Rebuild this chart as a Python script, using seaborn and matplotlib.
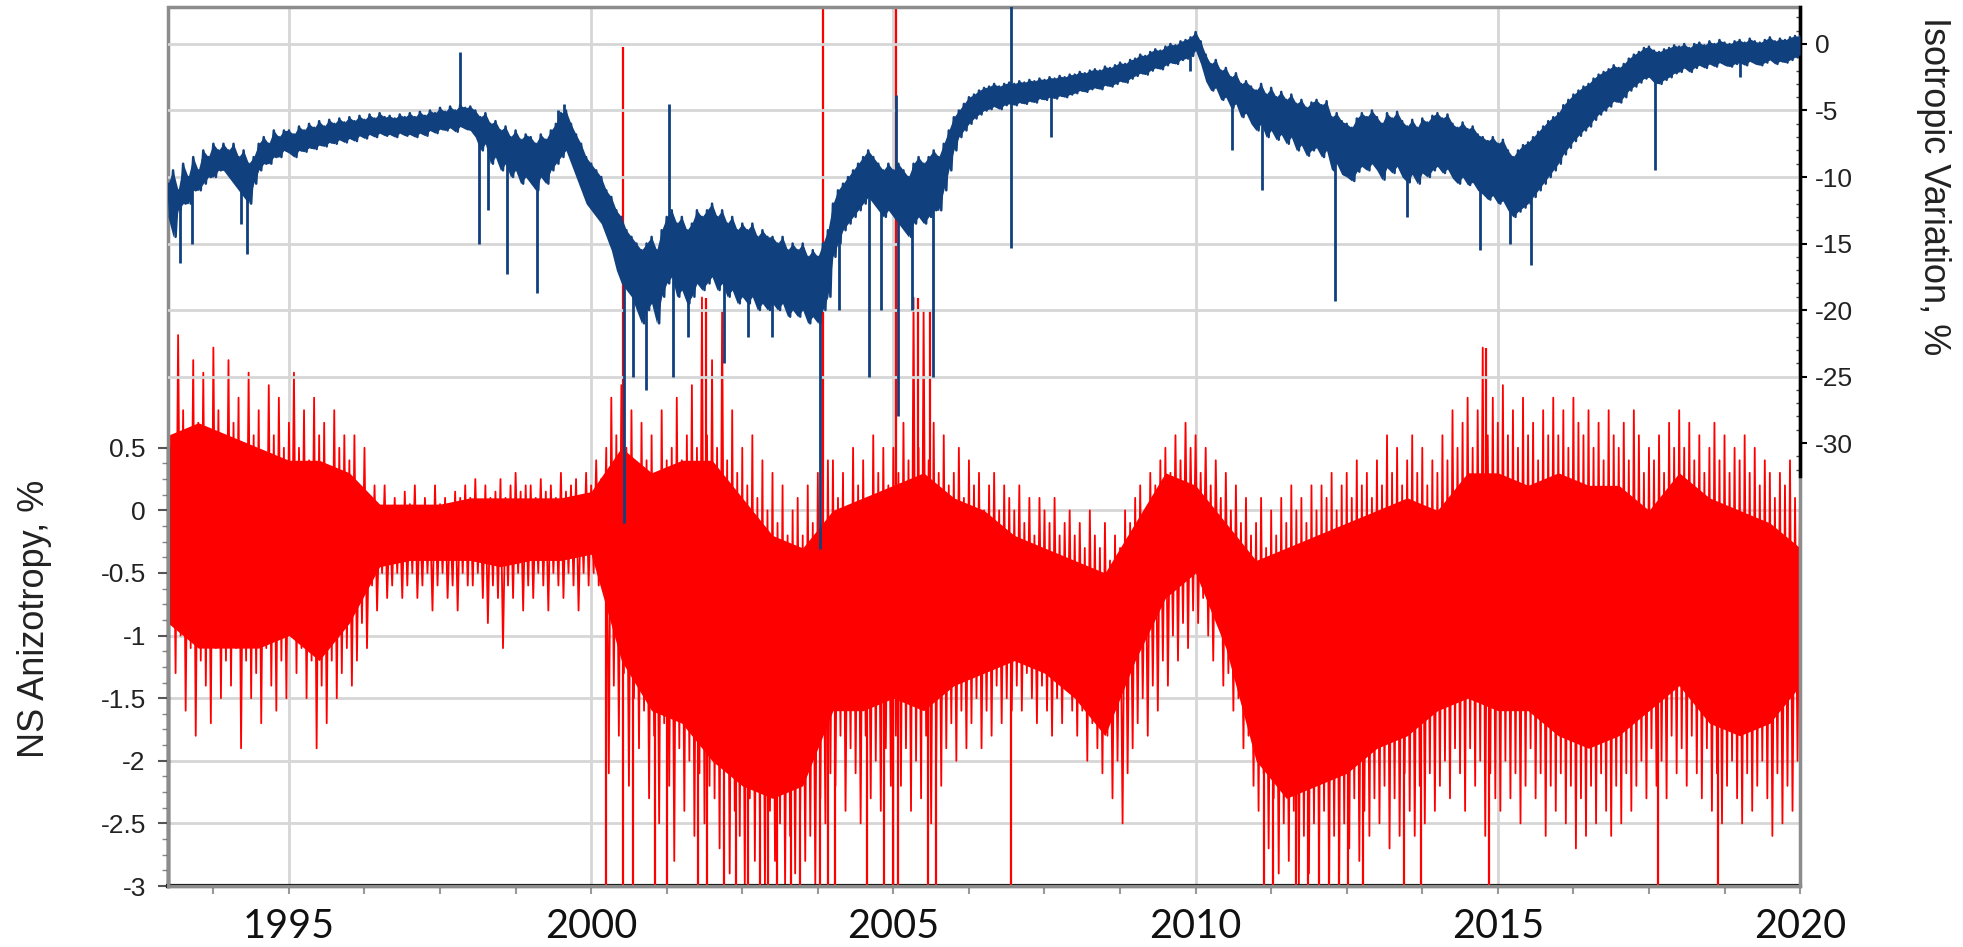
import numpy as np
import matplotlib.pyplot as plt
import seaborn as sns
from matplotlib.ticker import FixedLocator
from matplotlib.patches import Rectangle

# ---- data ----
# monthly sample grid 1993.0 .. 2020.0
years_m = 1993.0 + np.arange(325) / 12
# half-year sample grid for the solid core of the red scatter
years_h = 1993.0 + np.arange(55) / 2

# NS anisotropy, %: upper / lower reach of the daily scatter, month by month
red_hi = [
    1.0, 0.6, 1.4, 0.8, 0.5, 1.2, 0.7, 1.1, 0.6, 1.3, 0.8, 0.5,      # 1993
    1.2, 0.7, 0.9, 0.5, 1.1, 0.6, 0.8, 0.4, 1.0, 0.6, 0.9, 0.5,      # 1994
    0.7, 1.1, 0.5, 0.8, 0.4, 0.9, 0.6, 0.7, 0.3, 0.8, 0.5, 0.6,      # 1995
    0.4, 0.6, 0.2, 0.5, 0.1, 0.2, 0.0, 0.2, -0.05, 0.1, 0.0, 0.15,   # 1996
    0.05, 0.2, -0.05, 0.1, 0.0, 0.2, 0.05, 0.1, -0.05, 0.15, 0.1, 0.2,  # 1997
    0.1, 0.25, 0.05, 0.2, 0.1, 0.15, 0.25, 0.1, 0.2, 0.3, 0.15, 0.2,    # 1998
    0.2, 0.1, 0.25, 0.15, 0.2, 0.1, 0.3, 0.15, 0.2, 0.25, 0.1, 0.3,     # 1999
    0.2, 0.4, 0.25, 0.5, 0.9, 0.6, 1.0, 0.5, 0.8, 0.3, 0.7, 0.4,     # 2000
    0.6, 0.3, 0.8, 0.4, 0.5, 0.9, 0.4, 0.6, 1.0, 0.5, 1.7, 0.6,      # 2001
    1.2, 0.5, 1.6, 0.4, 0.8, 0.3, 0.5, 0.2, 0.6, 0.1, 0.4, 0.0,      # 2002
    0.3, -0.1, 0.2, -0.2, 0.0, 0.1, -0.2, 0.2, -0.1, 0.3, 0.0, 0.4,  # 2003
    0.4, 0.1, 0.3, 0.0, 0.5, 0.2, 0.4, 0.1, 0.6, 0.3, 0.5, 0.2,      # 2004
    0.5, 0.3, 0.7, 0.4, 1.7, 0.5, 1.6, 0.4, 0.7, 0.3, 0.6, 0.2,      # 2005
    0.3, 0.5, 0.1, 0.4, 0.2, 0.3, 0.0, 0.2, 0.3, 0.0, 0.2, 0.1,      # 2006
    0.0, 0.2, -0.1, 0.1, -0.2, 0.1, 0.0, -0.1, 0.1, -0.2, -0.1, 0.0,    # 2007
    -0.2, -0.1, -0.3, 0.0, -0.2, -0.3, -0.1, -0.4, -0.2, -0.3, 0.0, -0.1,  # 2008
    0.1, 0.2, 0.0, 0.3, 0.2, 0.4, 0.5, 0.3, 0.6, 0.4, 0.7, 0.5,      # 2009
    0.6, 0.3, 0.5, 0.2, 0.4, 0.1, 0.3, 0.0, 0.2, -0.1, 0.1, -0.2,    # 2010
    -0.1, 0.1, -0.3, 0.0, -0.2, 0.1, -0.1, 0.2, 0.0, 0.1, -0.1, 0.2,  # 2011
    0.0, 0.2, 0.1, 0.3, 0.0, 0.2, 0.3, 0.1, 0.4, 0.2, 0.3, 0.1,      # 2012
    0.4, 0.2, 0.6, 0.3, 0.5, 0.2, 0.4, 0.6, 0.3, 0.5, 0.2, 0.4,      # 2013
    0.3, 0.6, 0.4, 0.8, 0.5, 0.7, 0.9, 0.5, 0.8, 1.3, 0.6, 0.9,      # 2014
    0.7, 1.0, 0.6, 0.8, 0.5, 0.9, 0.6, 0.7, 0.4, 0.8, 0.6, 0.9,      # 2015
    0.6, 0.8, 0.5, 0.9, 0.7, 0.6, 0.8, 0.5, 0.7, 0.4, 0.8, 0.6,      # 2016
    0.5, 0.7, 0.4, 0.8, 0.6, 0.3, 0.5, 0.4, 0.6, 0.3, 0.7, 0.5,      # 2017
    0.8, 0.5, 0.7, 0.4, 0.6, 0.3, 0.5, 0.7, 0.4, 0.6, 0.3, 0.5,      # 2018
    0.4, 0.6, 0.3, 0.5, 0.2, 0.4, 0.3, 0.1, 0.3, 0.2, 0.4, 0.1,      # 2019
    0.2]
red_lo = [
    -0.9, -1.3, -1.0, -1.6, -1.1, -1.8, -1.2, -1.4, -1.7, -1.1, -1.5, -1.2,  # 1993
    -1.4, -1.1, -1.9, -1.2, -1.5, -1.3, -1.7, -1.1, -1.4, -1.6, -1.2, -1.5,  # 1994
    -1.0, -1.3, -1.1, -1.5, -1.2, -1.9, -1.4, -1.7, -1.2, -1.5, -1.3, -1.1,  # 1995
    -1.4, -1.2, -0.9, -1.1, -0.6, -0.8, -0.5, -0.7, -0.6, -0.5, -0.7, -0.6,  # 1996
    -0.5, -0.7, -0.6, -0.5, -0.8, -0.6, -0.5, -0.7, -0.6, -0.8, -0.5, -0.6,  # 1997
    -0.6, -0.5, -0.7, -0.9, -0.6, -0.7, -1.1, -0.6, -0.7, -0.5, -0.8, -0.6,  # 1998
    -0.7, -0.5, -0.6, -0.8, -0.5, -0.6, -0.7, -0.5, -0.6, -0.8, -0.5, -0.6,  # 1999
    -0.5, -0.6, -0.5, -2.1, -1.4, -1.8, -1.3, -2.2, -1.5, -1.9, -1.6, -2.3,  # 2000
    -1.8, -2.5, -1.7, -2.2, -2.8, -1.9, -2.4, -2.0, -2.6, -2.1, -2.5, -2.2,  # 2001
    -2.3, -2.7, -2.0, -2.9, -2.4, -2.6, -3.0, -2.3, -2.8, -2.5, -3.0, -2.4,  # 2002
    -2.8, -2.5, -3.0, -2.6, -2.9, -2.4, -2.8, -2.6, -3.0, -2.3, -2.5, -2.1,  # 2003
    -2.2, -1.8, -2.4, -1.9, -2.1, -2.5, -1.8, -2.3, -2.0, -2.4, -1.9, -2.2,  # 2004
    -1.8, -2.2, -1.9, -2.4, -2.0, -2.3, -1.8, -2.5, -2.0, -2.2, -1.9, -1.7,  # 2005
    -2.0, -1.6, -1.9, -1.7, -1.5, -1.9, -1.6, -1.8, -1.4, -1.7, -1.5, -1.6,  # 2006
    -1.4, -1.6, -1.3, -1.5, -1.7, -1.4, -1.6, -1.8, -1.5, -1.7, -1.4, -1.6,  # 2007
    -1.8, -1.6, -2.0, -1.7, -1.9, -2.1, -1.8, -2.3, -2.0, -2.5, -2.1, -1.9,  # 2008
    -1.7, -1.5, -1.8, -1.4, -1.6, -1.2, -1.4, -1.0, -1.2, -0.9, -1.1, -0.8,  # 2009
    -0.9, -0.7, -1.0, -1.2, -0.9, -1.4, -1.3, -1.6, -1.5, -1.9, -1.8, -2.2,  # 2010
    -2.4, -2.1, -2.7, -2.3, -2.9, -2.5, -2.8, -2.4, -3.0, -2.6, -2.9, -2.5,  # 2011
    -2.8, -2.4, -3.0, -2.6, -2.9, -2.5, -2.7, -2.3, -2.8, -2.4, -2.6, -2.3,  # 2012
    -2.5, -2.2, -2.7, -2.3, -2.6, -2.1, -2.4, -2.6, -2.2, -2.5, -2.1, -2.4,  # 2013
    -2.2, -2.0, -2.3, -1.9, -2.1, -2.4, -1.9, -2.2, -2.0, -2.6, -2.1, -2.3,  # 2014
    -2.4, -2.0, -2.3, -2.1, -2.5, -2.2, -1.9, -2.3, -2.1, -2.6, -2.2, -2.4,  # 2015
    -2.1, -2.5, -2.2, -2.7, -2.3, -2.6, -2.2, -2.5, -2.1, -2.4, -2.6, -2.2,  # 2016
    -2.5, -2.1, -2.4, -2.2, -2.0, -2.3, -1.9, -2.2, -2.0, -2.3, -1.8, -2.1,  # 2017
    -1.9, -2.2, -1.8, -2.1, -2.3, -1.9, -2.4, -2.1, -2.5, -2.2, -2.0, -2.3,  # 2018
    -2.5, -2.1, -2.4, -2.2, -2.0, -2.3, -2.6, -2.1, -2.5, -2.2, -2.4, -2.0,  # 2019
    -1.7]

# NS anisotropy, %: edges of the solid core (half-year)
red_core_hi = [0.6, 0.7, 0.6, 0.5, 0.4, 0.4, 0.3, 0.05, 0.05, 0.05, 0.1, 0.1,
               0.1, 0.1, 0.15, 0.5, 0.3, 0.4, 0.4, 0.1, -0.2, -0.3, 0.0, 0.1,
               0.2, 0.3, 0.1, 0.0, -0.2, -0.3, -0.4, -0.5, -0.1, 0.3, 0.2, -0.1,
               -0.4, -0.3, -0.2, -0.1, 0.0, 0.1, 0.0, 0.3, 0.3, 0.2, 0.3, 0.2,
               0.2, 0.0, 0.3, 0.1, 0.0, -0.1, -0.3]
red_core_lo = [-0.9, -1.1, -1.1, -1.1, -1.0, -1.2, -0.9, -0.45, -0.4, -0.4, -0.4, -0.45,
               -0.4, -0.4, -0.35, -1.2, -1.6, -1.7, -2.0, -2.2, -2.3, -2.2, -1.6, -1.6,
               -1.5, -1.6, -1.4, -1.3, -1.2, -1.3, -1.5, -1.8, -1.2, -0.7, -0.5, -1.1,
               -2.0, -2.3, -2.2, -2.1, -1.9, -1.8, -1.6, -1.5, -1.6, -1.6, -1.8, -1.9,
               -1.8, -1.6, -1.4, -1.7, -1.8, -1.7, -1.4]

# single large red excursions (year, value)
red_spike_years = [2000.24, 2000.53, 2000.70, 2001.05, 2001.26, 2001.76, 2001.92, 2002.19,
                   2002.39, 2002.59, 2002.80, 2002.92, 2003.08, 2003.30, 2003.46, 2003.79,
                   2003.92, 2004.04, 2004.57, 2004.84, 2004.99, 2005.07, 2005.57, 2005.70,
                   2006.94, 2011.13, 2011.28, 2011.66, 2011.86, 2012.04, 2012.20, 2012.37,
                   2012.52, 2012.77, 2013.45, 2013.73, 2014.85, 2017.65, 2018.65,
                   2000.52, 2003.83, 2005.05, 2001.90, 2005.40, 2005.60, 2014.80]
red_spike_vals = [-3.2] * 39 + [3.7, 4.2, 4.2, 1.7, 1.7, 1.6, 1.3]

# isotropic variation, %: upper / lower edge of the band, month by month
blue_hi = [
    -10.5, -9.5, -11, -9, -10, -8.5, -9.5, -8, -8.5, -7.5, -8, -7.5,       # 1993
    -8, -7.5, -8.5, -8, -9, -8.5, -7.5, -7, -7.5, -6.5, -7, -6.5,          # 1994
    -6.5, -6.8, -6.2, -6.5, -6, -6.3, -5.8, -6.2, -5.7, -6, -5.6, -5.9,    # 1995
    -5.5, -5.8, -5.4, -5.7, -5.3, -5.6, -5.2, -5.5, -5.4, -5.6, -5.3, -5.5,  # 1996
    -5.2, -5.5, -5.1, -5.4, -5, -5.2, -4.8, -5.1, -4.7, -5, -4.6, -4.8,    # 1997
    -4.7, -5, -5.5, -5.2, -6, -5.8, -6.5, -6.2, -7, -6.5, -7.2, -6.8,      # 1998
    -7, -7.5, -6.8, -7.2, -6.5, -6, -5.2, -5, -6, -6.8, -7.5, -8.5,        # 1999
    -9, -9.5, -10, -11, -11.5, -12.5, -13, -14, -14.5, -15, -15.5, -15,    # 2000
    -14.5, -15.5, -14, -13, -12.5, -13.5, -13, -14, -13.5, -12.5, -13, -12.5,  # 2001
    -12, -13, -12.5, -13.5, -13, -14, -13.5, -14, -13.5, -14.5, -14, -14.5,    # 2002
    -14.5, -15, -14.5, -15.5, -15, -15.5, -15, -16, -15.5, -16, -15, -14,      # 2003
    -12, -11, -10.5, -10, -9.5, -9, -8.5, -8, -8.5, -9, -9.5, -9,          # 2004
    -9.5, -9, -9.5, -10, -9, -8.5, -9, -8.5, -8, -8.5, -7.5, -6.5,         # 2005
    -5.5, -5, -4.5, -4, -3.8, -3.5, -3.3, -3.2, -3, -3.2, -3, -2.9,        # 2006
    -3, -2.8, -2.9, -2.7, -2.8, -2.6, -2.7, -2.5, -2.6, -2.4, -2.5, -2.3,  # 2007
    -2.3, -2.1, -2.2, -2, -1.9, -2, -1.7, -1.8, -1.6, -1.4, -1.5, -1.2,    # 2008
    -1.1, -0.8, -0.9, -0.6, -0.4, -0.5, -0.2, 0, -0.1, 0.2, 0.3, 0.5,      # 2009
    0.9, 0.2, -0.8, -1.5, -1.2, -2, -1.8, -2.5, -2.2, -3, -2.8, -3.2,      # 2010
    -3.5, -3, -3.8, -3.3, -4, -3.6, -4.2, -3.8, -4.5, -4.2, -4.8, -4.4,    # 2011
    -4.2, -4.6, -4.3, -5.5, -5.2, -5.8, -6, -6.3, -5.6, -5.2, -5.5, -5,    # 2012
    -5.5, -6, -5.2, -5.6, -5.1, -5.8, -6.2, -5.7, -6.3, -5.6, -5.9, -5.4,  # 2013
    -5.2, -5.6, -5.3, -6, -6.3, -5.9, -6.4, -6.2, -6.8, -7, -7.3, -7,      # 2014
    -7.5, -7.2, -8, -8.5, -8, -7.6, -7.4, -7, -6.6, -6.2, -5.8, -5.5,      # 2015
    -5.2, -4.6, -4.2, -3.8, -3.5, -3.2, -3, -2.6, -2.3, -2.1, -1.9, -1.6,  # 2016
    -1.8, -1.5, -1.1, -0.8, -0.6, -0.3, -0.2, -0.5, -0.6, -0.4, -0.3, -0.1,  # 2017
    -0.2, 0, -0.3, 0, 0.1, -0.1, 0.2, 0, 0.3, 0.1, 0, 0.2,                 # 2018
    0.3, 0.1, 0.4, 0.2, 0.1, 0.3, 0.5, 0.2, 0.4, 0.3, 0.5, 0.6,            # 2019
    0.6]
blue_lo = [
    -13, -14.5, -12.5, -12, -12, -11, -11, -10.5, -10, -10, -9.5, -9.5,    # 1993
    -10, -10.5, -11, -11.5, -12, -10.5, -9.5, -9, -9, -8.5, -8.5, -8,      # 1994
    -8.2, -8.5, -8, -8.1, -7.8, -7.9, -7.6, -7.7, -7.4, -7.5, -7.2, -7.4,  # 1995
    -7.1, -7.3, -6.9, -7.1, -6.8, -7, -6.7, -6.9, -6.8, -7, -6.7, -6.9,    # 1996
    -6.8, -7, -6.7, -6.9, -6.5, -6.7, -6.4, -6.5, -6.3, -6.6, -6.2, -6.4,  # 1997
    -6.5, -7, -8, -7.5, -9, -8.5, -9.5, -9, -10, -9.5, -10.5, -10,         # 1998
    -10.5, -11, -10, -10.5, -9.5, -9, -8.5, -8, -9, -10, -11, -12,         # 1999
    -12.5, -13, -13.5, -14.5, -15.5, -17, -18, -18.5, -19, -20, -21, -20,  # 2000
    -19.5, -21, -19, -18, -17.5, -19, -18.5, -19.5, -19, -18, -18.5, -18,  # 2001
    -17.5, -18.5, -18, -19, -18.5, -19.5, -19, -19.5, -19, -20, -19.5, -20,  # 2002
    -19.5, -20, -19.5, -20.5, -20, -20.5, -20, -21, -20.5, -21, -20, -19,  # 2003
    -16, -15, -14, -13.5, -13, -12.5, -12, -11.5, -12, -12.5, -13, -12.5,  # 2004
    -13, -13.5, -14, -14.5, -13.5, -13, -13.5, -13, -12.5, -12.5, -11, -9.5,  # 2005
    -8, -7, -6.5, -6, -5.6, -5.3, -5, -4.9, -4.7, -4.9, -4.6, -4.5,        # 2006
    -4.6, -4.4, -4.5, -4.3, -4.4, -4.1, -4.2, -4, -4.1, -3.9, -4, -3.8,    # 2007
    -3.7, -3.5, -3.6, -3.4, -3.3, -3.4, -3.1, -3.2, -3, -2.8, -2.9, -2.6,  # 2008
    -2.4, -2.2, -2.3, -2, -1.8, -1.9, -1.6, -1.4, -1.5, -1.2, -1.1, -0.9,  # 2009
    -0.5, -1.5, -2.8, -3.5, -3.3, -4.2, -4, -4.8, -4.5, -5.5, -5.2, -6,    # 2010
    -6.5, -6, -7, -6.5, -7.2, -6.8, -7.5, -7, -8, -7.6, -8.4, -8,          # 2011
    -7.8, -8.5, -8, -9.5, -9, -9.8, -10, -10.3, -9.6, -9.2, -9.5, -9,      # 2012
    -9.5, -10.2, -9.3, -9.7, -9.2, -10, -10.4, -9.8, -10.5, -9.7, -10, -9.5,  # 2013
    -9.2, -9.7, -9.4, -10.1, -10.5, -10, -10.6, -10.4, -11, -11.3, -11.7, -11.4,  # 2014
    -12, -11.8, -12.5, -13, -12.6, -12.3, -12, -11.5, -11, -10.5, -10, -9.5,  # 2015
    -9, -8.3, -7.8, -7.3, -6.9, -6.5, -6.2, -5.7, -5.3, -5, -4.7, -4.3,    # 2016
    -4.4, -4, -3.5, -3.2, -2.9, -2.6, -2.5, -2.9, -3, -2.7, -2.5, -2.2,    # 2017
    -2.1, -1.8, -2.1, -1.8, -1.6, -1.8, -1.5, -1.7, -1.4, -1.6, -1.7, -1.5,  # 2018
    -1.4, -1.6, -1.3, -1.5, -1.6, -1.4, -1.2, -1.5, -1.3, -1.4, -1.2, -1.0,  # 2019
    -0.8]

# single large blue excursions (year, value)
blue_spike_years = [1993.2, 1993.4, 1994.2, 1994.3, 1997.83, 1998.15, 1998.3, 1998.6,
                    1999.1, 1999.45, 1999.55, 2000.55, 2000.7, 2000.9, 2001.29, 2001.35,
                    2001.6, 2002.2, 2002.6, 2003.0, 2003.78, 2004.1, 2004.6, 2004.8,
                    2005.04, 2005.07, 2005.3, 2005.65, 2006.94, 2006.95, 2007.6, 2009.9,
                    2010.6, 2011.1, 2012.3, 2013.5, 2014.7, 2015.2, 2015.55, 2017.6, 2019.0]
blue_spike_vals = [-16.5, -15, -13.5, -15.8, -0.6, -15, -12.5, -17.3,
                   -18.7, -5, -4.5, -36, -25, -26, -4.5, -25,
                   -22, -24, -22, -22, -38, -20, -25, -20,
                   -3.8, -28, -20, -25, 2.9, -15.3, -7, -2,
                   -8, -11, -19.3, -13, -15.5, -15, -16.6, -9.5, -2.5]

year_labels = [1995, 2000, 2005, 2010, 2015, 2020]
red_ticks = [0.5, 0, -0.5, -1, -1.5, -2, -2.5, -3]
blue_ticks = [0, -5, -10, -15, -20, -25, -30]

RED = '#FF0000'
BLUE = '#10407E'
GRID = '#D6D6D6'

sns.set_theme(style="white")
plt.rcParams['font.family'] = ['Liberation Sans', 'DejaVu Sans']

fig = plt.figure(figsize=(19.63, 9.47), dpi=100)
ax = fig.add_axes([0.0856, 0.0644, 0.8314, 0.9282])
ax2 = ax.twinx()

ax.set_xlim(1993, 2020)
ax.set_ylim(-3, 4.02)
ax2.set_ylim(-63.3, 2.78)

# grid
for yr in year_labels[:-1]:
    ax.axvline(yr, color=GRID, lw=2, zorder=0)
for v in red_ticks[1:-1]:
    ax.axhline(v, color=GRID, lw=2, zorder=0)
for v in blue_ticks[:-1]:
    ax2.axhline(v, color=GRID, lw=2, zorder=0)

# red series: solid core, zigzag between the monthly reaches, big excursions
half = 1 / 24
zz_x = np.column_stack([years_m, years_m + half]).ravel()[:-1]
ax.fill_between(years_h, red_core_lo, red_core_hi, color=RED, lw=0, zorder=2)
zz_y = np.column_stack([red_hi, red_lo]).ravel()[:-1]
sns.lineplot(x=zz_x, y=zz_y, ax=ax, color=RED, lw=1.3, sort=False, estimator=None, zorder=2)
red_mid = np.interp(red_spike_years, years_h, (np.array(red_core_hi) + np.array(red_core_lo)) / 2)
ax.vlines(red_spike_years, red_mid, red_spike_vals, color=RED, lw=1.6, zorder=3)

# blue series: filled band with ragged edges, big excursions
ax2.fill_between(years_m, blue_lo, blue_hi, color=BLUE, lw=0, zorder=3)
bz_y = np.column_stack([blue_hi, blue_lo]).ravel()[:-1]
sns.lineplot(x=zz_x, y=bz_y, ax=ax2, color=BLUE, lw=1.8, sort=False, estimator=None, zorder=3)
blue_mid = np.interp(blue_spike_years, years_m, (np.array(blue_hi) + np.array(blue_lo)) / 2)
ax2.vlines(blue_spike_years, blue_mid, blue_spike_vals, color=BLUE, lw=2, zorder=3)

# frame and axis lines
for s in ax.spines.values():
    s.set_visible(False)
for s in ax2.spines.values():
    s.set_visible(False)
ax.add_patch(Rectangle((0, 0), 1, 1, transform=ax.transAxes, fill=False,
                       edgecolor='#8C8C8C', lw=2.5, zorder=5, clip_on=False))
ax.spines['left'].set_visible(True)
ax.spines['left'].set_bounds(-3, 0.5)
ax.spines['left'].set_color('black')
ax.spines['left'].set_linewidth(2.5)
ax.spines['bottom'].set_visible(True)
ax.spines['bottom'].set_color('black')
ax.spines['bottom'].set_linewidth(3)
ax2.spines['right'].set_visible(True)
ax2.spines['right'].set_bounds(-32.5, 2.78)
ax2.spines['right'].set_color('black')
ax2.spines['right'].set_linewidth(2.5)

# ticks
ax.yaxis.set_major_locator(FixedLocator(red_ticks))
ax.set_yticklabels([f'{v:g}' for v in red_ticks])
ax.yaxis.set_minor_locator(FixedLocator(np.arange(-3, 0.51, 0.125)))
ax.tick_params(axis='y', which='major', left=True, direction='out', length=7, width=1.5,
               color='#555555', labelsize=19, pad=9, labelcolor='#222222')
ax.tick_params(axis='y', which='minor', left=True, direction='out', length=4, width=1,
               color='#888888')

xt = np.arange(1993.75, 2020.01, 1.25)
ax.set_xticks(xt)
ax.set_xticklabels([str(int(t)) if t % 5 == 0 else '' for t in xt],
                   fontsize=28.5, family=['Lato', 'DejaVu Sans'])
ax.tick_params(axis='x', which='major', bottom=True, direction='out', length=6, width=1.5,
               color='#999999', pad=10, labelcolor='#111111')

ax2.yaxis.set_major_locator(FixedLocator(blue_ticks))
ax2.set_yticklabels([f'{v:g}' for v in blue_ticks])
ax2.yaxis.set_minor_locator(FixedLocator(np.arange(-32, 2.1, 1)))
ax2.tick_params(axis='y', which='major', right=True, direction='out', length=5, width=1.5,
                color='black', labelsize=19, pad=6, labelcolor='#222222')
ax2.tick_params(axis='y', which='minor', right=True, direction='in', length=3, width=1,
                color='#444444')
ax.set_ylabel('')
ax2.set_ylabel('')

fig.text(0.0175, 0.347, 'NS Anizotropy, %', rotation=90, ha='center', va='center',
         fontsize=26, color='#222222')
fig.text(0.985, 0.803, 'Isotropic Variation, %', rotation=270, ha='center', va='center',
         fontsize=26, color='#222222')

fig.savefig('out.png', dpi=100)
